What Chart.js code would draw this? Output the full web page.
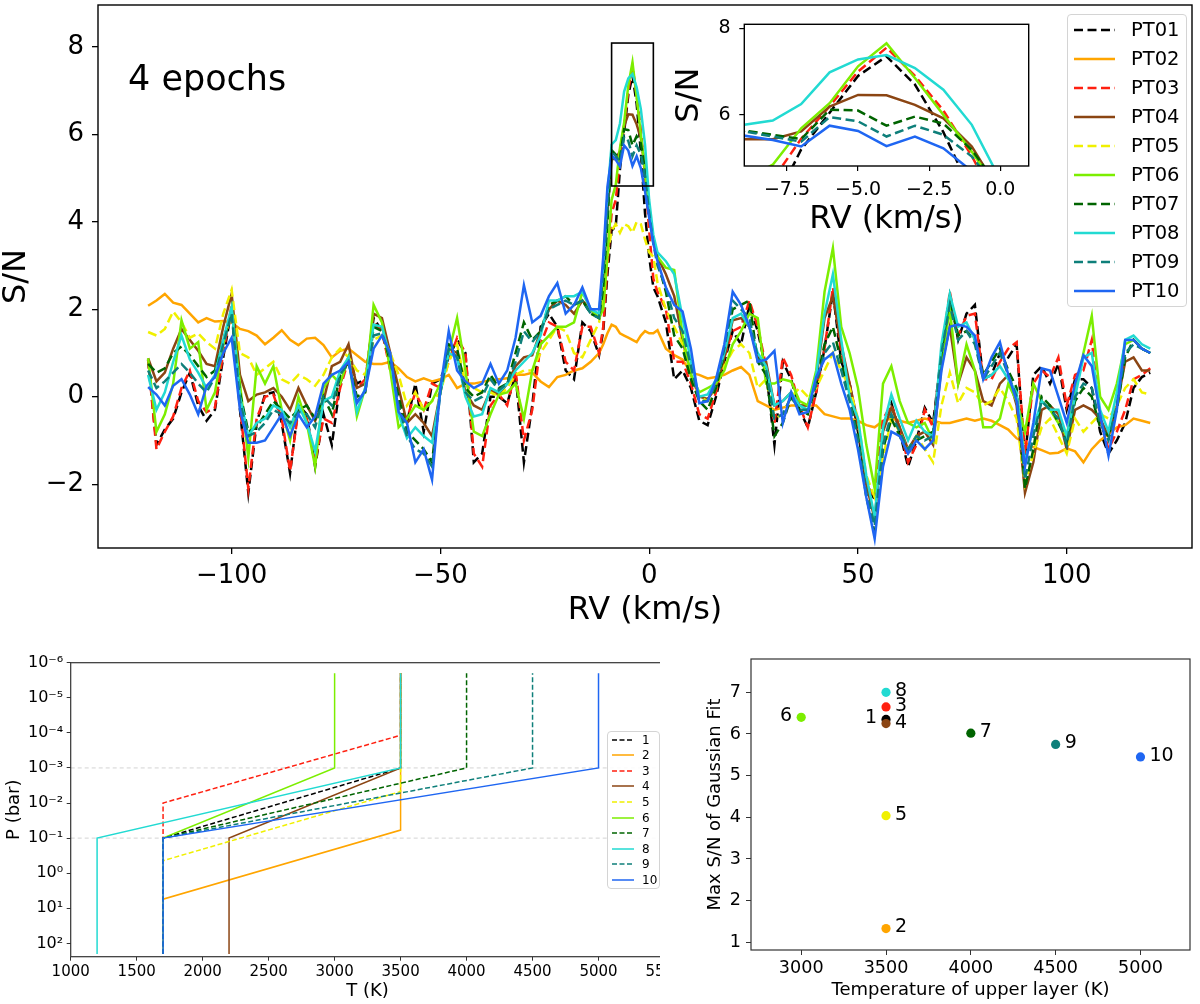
<!DOCTYPE html>
<html><head><meta charset="utf-8">
<script src="https://cdn.jsdelivr.net/npm/chart.js"></script>
<style>
html,body{margin:0;padding:0;background:#fff;}
body{width:1200px;height:1004px;position:relative;overflow:hidden;font-family:'DejaVu Sans',sans-serif;color:#000;}
.abs{position:absolute;}
.legend{position:absolute;background:rgba(255,255,255,0.88);border:1px solid #d4d4d4;border-radius:4px;box-sizing:border-box;}
</style></head>
<body>
<div class="abs" style="left:0;top:0;width:1200px;height:640px;"><canvas id="mainChart" width="1200" height="640"></canvas></div>
<div class="abs" id="epochs" style="left:128px;top:61px;font-size:35px;line-height:35px;white-space:nowrap;">4 epochs</div>
<div class="abs" style="left:590px;top:0;width:450px;height:250px;"><canvas id="insetChart" width="450" height="250"></canvas></div>
<div class="legend" id="mainLegend" style="left:1067px;top:14px;width:120px;height:293px;"></div>
<div class="abs" style="left:0;top:640px;width:660px;height:364px;overflow:hidden;">
  <canvas id="ptChart" width="700" height="364"></canvas>
  <div class="legend" id="ptLegend" style="left:607px;top:91px;width:53px;height:158px;"></div>
</div>
<div class="abs" style="left:660px;top:640px;width:540px;height:364px;"><canvas id="scChart" width="540" height="364"></canvas></div>
<script>
// ---------------- DATA ----------------
const rv = [-120,-118,-116,-114,-112,-110,-108,-106,-104,-102,-100,-98,-96,-94,-92,-90,-88,-86,-84,-82,-80,-78,-76,-74,-72,-70,-68,-66,-64,-62,-60,-58,-56,-54,-52,-50,-48,-46,-44,-42,-40,-38,-36,-34,-32,-30,-28,-26,-24,-22,-20,-18,-16,-14,
 -12,-11,-10,-9,-8,-7,-6,-5,-4,-3,-2,-1,0,1,2,
 4,6,8,10,12,14,16,18,20,22,24,26,28,30,32,34,36,38,40,42,44,46,48,50,52,54,56,58,60,62,64,66,68,70,72,74,76,78,80,82,84,86,88,90,92,94,96,98,100,102,104,106,108,110,112,114,116,118,120];

const pt01 = [0.85,-1.10,-0.75,-0.50,0.10,0.55,-0.20,-0.55,-0.30,0.90,2.00,-0.30,-2.20,-0.60,0.05,0.10,-0.60,-1.75,-0.20,-0.40,-1.60,-0.40,-1.10,0.30,0.90,0.30,0.40,1.80,1.50,0.70,-0.30,-0.60,0.30,-0.80,0.30,0.40,0.90,1.30,1.00,-1.50,-1.30,0.00,0.00,-0.15,0.50,-1.50,-0.20,1.60,1.90,1.60,0.60,0.40,1.70,1.50,
 0.95,1.50,2.80,3.80,3.90,5.20,6.05,6.90,7.35,6.70,5.60,4.20,3.20,2.50,2.30,
 1.70,0.40,0.60,0.20,-0.55,-0.65,0.00,0.80,1.50,1.20,2.10,1.50,0.60,-1.10,0.80,0.40,-0.30,-0.70,0.10,1.10,2.40,0.80,0.30,-0.80,-2.00,-2.35,-0.60,-0.15,-0.80,-1.60,-1.00,-0.25,-0.60,1.00,2.30,1.30,1.90,2.10,0.40,0.50,1.00,0.90,1.20,-1.40,0.50,0.70,0.30,0.75,-0.30,0.40,0.40,0.20,-0.80,-1.30,-1.00,-0.60,0.20,0.45,0.55];
const pt02 = [2.08,2.20,2.35,2.15,2.10,1.90,1.70,1.80,1.72,1.73,1.70,1.55,1.50,1.40,1.20,1.35,1.52,1.30,1.18,1.33,1.35,1.18,0.90,1.05,1.10,0.95,0.80,0.75,0.75,0.80,0.65,0.45,0.35,0.42,0.35,0.40,0.50,0.20,0.30,0.30,0.34,0.38,0.40,0.42,0.50,0.50,0.55,0.35,0.22,0.45,0.50,0.60,0.65,0.80,
 1.00,1.20,1.45,1.65,1.60,1.45,1.40,1.35,1.30,1.25,1.40,1.50,1.45,1.45,1.52,
 1.10,0.95,0.85,0.55,0.50,0.42,0.45,0.50,0.60,0.68,0.50,-0.10,-0.20,-0.30,-0.25,-0.20,-0.20,-0.20,-0.20,-0.40,-0.45,-0.50,-0.50,-0.55,-0.65,-0.70,-0.55,-0.50,-0.55,-0.60,-0.55,-0.50,-0.55,-0.60,-0.60,-0.55,-0.50,-0.55,-0.50,-0.55,-0.65,-0.75,-0.95,-1.05,-1.15,-1.22,-1.30,-1.28,-1.18,-1.25,-1.50,-1.20,-1.00,-0.85,-0.70,-0.65,-0.50,-0.55,-0.60];
const pt03 = [0.85,-1.20,-0.80,-0.45,0.20,0.60,-0.10,-0.35,-0.25,1.00,2.10,-0.20,-2.10,-0.50,0.00,0.05,-0.50,-1.70,-0.30,-0.50,-1.50,-0.50,-0.60,0.20,0.85,0.20,0.40,1.70,1.50,0.60,-0.20,-0.50,0.10,-0.30,0.30,0.20,0.80,1.35,1.00,-1.30,-1.60,-0.20,0.05,-0.20,0.60,-1.00,-0.30,1.20,1.70,1.60,0.80,0.60,1.60,1.60,
 1.00,1.60,3.00,4.20,4.50,5.45,6.20,7.00,7.55,6.90,6.10,5.05,3.80,2.70,2.40,
 2.00,0.80,0.80,0.30,-0.40,-0.50,0.10,0.90,1.50,1.60,2.20,1.60,0.70,-0.60,0.90,0.50,-0.20,-0.70,0.10,1.10,2.50,1.00,0.30,-0.70,-2.00,-2.30,-0.50,-0.20,-0.70,-1.50,-1.10,-0.30,-0.70,1.00,2.40,1.40,1.85,1.90,0.40,0.40,0.80,1.10,1.25,-1.30,0.30,0.60,0.45,0.90,-0.20,0.50,0.60,1.30,-0.50,-1.20,-0.80,-0.30,0.40,0.50,0.65];
const pt04 = [0.88,0.35,0.55,1.10,1.55,1.30,1.05,0.75,0.70,1.60,2.35,0.50,-0.10,0.05,0.10,0.20,0.00,-0.30,0.20,-0.20,-0.55,-0.10,0.70,0.80,1.20,0.20,0.30,1.90,1.80,1.00,0.20,-0.60,-0.40,-0.60,-0.90,0.10,1.10,1.00,0.10,-0.20,-0.30,0.15,0.05,0.30,0.70,0.90,0.95,1.50,2.00,2.20,2.10,1.90,2.20,2.00,
 1.80,2.60,4.20,5.44,5.44,5.62,6.19,6.46,6.45,6.23,5.92,5.27,4.20,3.60,3.20,
 2.80,2.30,1.30,0.50,0.00,-0.05,0.20,0.90,1.75,1.80,1.60,0.90,0.80,-0.20,-0.10,0.10,-0.20,-0.20,0.40,1.80,2.30,1.20,0.30,-0.60,-2.00,-2.80,-0.80,-0.25,-0.70,-1.20,-0.90,-0.80,-1.10,0.70,1.60,0.30,0.90,0.60,-0.10,-0.20,0.30,0.50,-0.20,-2.20,-1.50,-0.30,-0.20,-0.40,-1.20,-0.30,-0.20,-0.30,-0.50,-0.90,-0.20,0.80,0.90,0.60,0.60];
const pt05 = [1.48,1.40,1.55,1.95,1.70,1.35,1.45,1.25,1.10,1.90,2.45,1.00,0.90,0.50,0.65,0.80,0.40,0.30,0.50,0.40,0.25,0.50,0.90,1.10,0.90,0.60,0.50,1.30,1.40,1.00,0.50,-0.20,0.10,-0.30,-0.10,0.10,0.80,1.20,0.30,0.20,0.10,0.10,0.00,0.20,0.50,0.60,0.60,1.00,1.30,1.60,1.50,1.00,0.90,1.30,
 1.70,2.30,3.20,3.80,3.95,3.75,3.95,3.90,3.75,4.00,3.95,3.60,3.30,3.20,2.60,
 2.00,1.60,1.20,0.50,0.00,-0.10,0.20,0.70,1.05,1.20,1.00,0.20,0.40,-0.50,-0.40,0.00,0.20,0.00,0.20,0.60,1.00,0.60,0.20,-0.50,-1.80,-2.30,-1.40,-0.50,-0.80,-1.20,-0.90,-1.20,-1.50,-0.20,0.55,-0.15,0.20,0.10,-0.20,-0.10,0.20,-0.10,-0.50,-2.00,-1.30,-0.70,-0.50,-0.90,-1.30,-0.50,-0.80,-0.60,-0.40,-0.50,-0.20,0.20,0.40,0.10,0.05];
const pt06 = [0.88,-0.80,-0.40,0.30,1.75,1.10,1.25,-0.30,0.10,1.20,2.00,0.30,-1.40,0.70,0.30,0.70,-0.30,-1.00,0.00,-0.60,-1.60,0.20,0.50,0.30,0.90,-0.45,0.20,2.10,1.70,0.60,-0.70,-0.50,-0.20,-0.30,-0.10,0.30,1.00,1.80,0.60,-0.80,-0.90,-0.40,0.05,0.10,0.30,-0.50,0.60,1.20,1.40,1.60,1.60,1.70,2.40,2.00,
 1.80,2.00,3.20,4.50,4.85,5.69,6.27,7.12,7.65,6.85,6.00,5.15,4.20,3.60,3.20,
 2.95,2.90,1.40,0.50,0.10,0.20,0.30,0.60,1.20,1.50,1.90,1.80,0.30,0.30,0.40,0.35,-0.10,-0.20,0.60,2.40,3.40,1.60,1.00,0.20,-1.10,-2.10,0.30,0.70,-0.10,-0.60,-0.70,-0.60,-1.00,0.80,2.00,0.30,1.20,0.60,-0.70,-0.70,-0.50,0.30,-0.10,-0.80,0.30,-0.10,-0.30,-0.60,-0.90,0.10,1.00,1.85,0.00,-0.30,0.30,1.20,1.30,1.10,1.00];
const pt07 = [0.75,0.55,0.65,1.00,1.15,0.95,0.70,0.45,0.60,1.30,1.95,0.10,-0.80,-0.70,-0.40,-0.10,-0.30,-0.50,-0.30,-0.20,-0.50,0.00,-0.40,0.50,0.80,0.00,0.10,1.60,1.50,0.80,0.00,-0.80,-1.00,-1.20,-1.50,0.20,1.20,1.10,0.20,0.00,0.10,0.50,0.20,0.30,1.00,1.70,1.30,1.50,2.10,2.20,2.30,2.10,2.20,1.90,
 1.80,2.50,4.00,5.64,5.54,5.44,6.12,6.10,5.75,5.96,5.80,5.19,4.30,3.60,3.10,
 2.40,1.40,1.10,0.40,-0.10,-0.30,0.20,1.00,2.00,2.10,2.20,0.80,0.50,-0.90,-0.60,0.00,-0.30,-0.40,0.30,1.20,1.60,0.80,0.00,-0.90,-2.30,-3.10,-1.20,-0.50,-0.90,-1.30,-1.00,-0.90,-0.80,1.00,2.30,1.40,1.50,1.30,0.50,0.80,1.10,0.60,0.20,-2.10,-1.20,0.00,-0.20,-0.60,-1.00,-0.10,0.20,0.00,-0.70,-0.90,-0.30,0.90,1.30,1.10,1.00];
const pt08 = [0.50,-0.30,0.10,0.80,1.40,0.85,0.55,0.20,0.50,1.30,2.05,0.00,-0.90,-0.60,-0.50,-0.20,-0.30,-0.70,-0.20,-0.60,-1.25,-0.10,0.00,0.60,0.90,-0.35,0.20,1.65,1.60,0.90,-0.40,-0.95,-0.70,-0.90,-1.05,0.10,1.00,0.90,0.00,-0.45,-0.40,0.20,0.10,0.30,0.60,0.80,1.00,1.40,2.20,2.20,2.30,2.30,2.40,2.00,
 1.90,3.00,4.60,5.77,5.87,6.25,6.98,7.28,7.38,7.08,6.58,5.77,4.50,3.70,3.30,
 3.10,2.80,1.80,0.80,0.00,0.05,0.40,1.00,1.80,1.90,1.60,1.00,0.70,-0.20,-0.10,0.10,-0.20,-0.30,0.50,1.90,2.80,1.30,0.00,-0.50,-1.80,-2.75,-0.70,0.05,-0.50,-1.00,-0.55,-0.80,-0.90,1.20,2.35,1.60,1.70,1.30,0.40,0.50,0.70,0.40,0.10,-1.50,-0.70,-0.10,-0.30,-0.30,-0.90,0.00,0.90,1.00,-0.30,-0.80,0.10,1.30,1.40,1.20,1.10];
const pt09 = [0.60,0.20,0.35,0.55,0.75,0.55,0.30,0.10,0.45,1.20,1.90,-0.10,-0.90,-0.80,-0.60,-0.30,-0.40,-0.60,-0.35,-0.40,-0.70,0.00,-0.20,0.50,0.80,-0.10,0.10,1.40,1.45,0.90,-0.20,-0.90,-1.20,-1.30,-1.60,0.10,1.10,0.90,0.10,-0.10,0.00,0.40,0.15,0.30,0.80,1.50,1.25,1.50,2.00,2.10,2.20,2.10,2.20,1.90,
 1.80,2.80,4.30,5.62,5.50,5.38,5.95,5.85,5.50,5.75,5.54,5.04,4.20,3.50,3.00,
 2.50,1.80,1.50,0.70,-0.10,-0.10,0.30,1.10,2.20,2.00,1.80,0.90,0.60,-0.50,-0.40,0.00,-0.30,-0.30,0.30,1.00,1.25,0.60,-0.10,-1.00,-2.20,-2.95,-1.10,-0.40,-0.80,-1.20,-0.90,-1.00,-0.90,1.00,2.10,1.30,1.50,1.20,0.40,0.70,1.00,0.50,0.00,-1.90,-0.90,-0.10,-0.30,-0.50,-1.10,0.00,0.30,0.20,-0.60,-1.00,-0.20,1.00,1.20,1.10,1.00];
const pt10 = [0.22,0.05,-0.20,0.25,0.40,0.05,-0.40,0.25,0.45,1.00,1.35,-0.30,-1.05,-1.05,-1.00,-0.70,-0.40,-0.90,-0.40,-0.70,-0.45,0.30,0.50,0.60,0.80,-0.15,0.15,1.10,1.40,1.00,-0.35,-0.60,-1.50,-1.20,-1.90,0.20,1.50,0.60,0.35,0.20,0.30,0.75,0.30,0.60,1.35,2.55,1.70,1.85,2.30,2.60,1.90,2.10,2.50,2.00,
 2.00,3.20,4.80,5.52,5.42,5.27,5.75,5.63,5.28,5.50,5.23,4.70,4.10,3.50,3.10,
 2.50,2.10,1.95,1.10,-0.15,-0.10,0.40,1.20,2.40,2.10,1.60,0.80,0.85,1.05,-0.60,0.10,-0.40,-0.35,0.45,0.85,1.00,0.30,-0.30,-1.20,-2.30,-3.25,-1.60,-0.80,-0.90,-1.30,-1.00,-1.20,-1.00,0.60,1.60,1.65,1.60,1.40,0.40,0.90,1.25,0.50,-0.10,-1.60,-0.60,0.65,0.60,0.00,-0.60,0.30,0.95,0.70,-0.40,-1.35,-0.30,1.30,1.30,1.10,1.00];

const seriesNames = ['PT01','PT02','PT03','PT04','PT05','PT06','PT07','PT08','PT09','PT10'];
const seriesValues = [pt01,pt02,pt03,pt04,pt05,pt06,pt07,pt08,pt09,pt10];

const mainXTicks = [-100,-50,0,50,100];
const mainYTicks = [-2,0,2,4,6,8];
const insetXRange = [-9,1];
const insetYRange = [4.82,8.09];
const insetXTicks = [-7.5,-5,-2.5,0];
const insetYTicks = [6,8];

// P-T profiles (bottom-left)
const ptNames = ['1','2','3','4','5','6','7','8','9','10'];
const ptTemps = [
  [1700,1700,3500,3500],[1700,1700,3500,3500],[1700,1700,3500,3500],[2200,2200,3500,3500],[1700,1700,3500,3500],
  [1700,1700,3000,3000],[1700,1700,4000,4000],[1200,1200,3500,3500],[1700,1700,4500,4500],[1700,1700,5000,5000]];
const ptPress = [
  [200,0.1,1e-3,2e-6],[200,5.5,0.059,2e-6],[200,1e-2,1.17e-4,2e-6],[200,0.1,1e-3,2e-6],[200,0.44,4.7e-3,2e-6],
  [200,0.1,1e-3,2e-6],[200,0.1,1e-3,2e-6],[200,0.1,1e-3,2e-6],[200,0.1,1e-3,2e-6],[200,0.1,1e-3,2e-6]];
const refPressures = [1e-3, 1e-1];
const ptXTicks = [1000,1500,2000,2500,3000,3500,4000,4500,5000,5500];
const ptYTicks = [1e-6,1e-5,1e-4,1e-3,1e-2,1e-1,1e0,1e1,1e2];

// Scatter (bottom-right)
const scatterLabels = ['1','2','3','4','5','6','7','8','9','10'];
const scatterTemp = [3500,3500,3500,3500,3500,3000,4000,3500,4500,5000];
const scatterSN = [6.35,1.33,6.65,6.25,4.04,6.40,6.02,7.00,5.75,5.45];
const scXTicks = [3000,3500,4000,4500,5000];
const scYTicks = [1,2,3,4,5,6,7];

// ---------------- STYLE ----------------
const colors = ['#000000','#FFA500','#FF2010','#8B4513','#F0F000','#7CEE00','#006400','#22DAD2','#0E7F7A','#1F66F2'];
const dashed = [true,false,true,false,true,false,true,false,true,false];
const labelSide = ['left','right','right','right','right','left','right','right','right','right'];

Chart.defaults.font.family = "'DejaVu Sans', sans-serif";
Chart.defaults.color = '#000';

const fmtNum = v => (v < 0 ? '\u2212' + Math.abs(v) : String(v));
const fmt1 = v => (v < 0 ? '\u2212' + Math.abs(v).toFixed(1) : v.toFixed(1));
const sup = {'-':'\u207B','0':'\u2070','1':'\u00B9','2':'\u00B2','3':'\u00B3','4':'\u2074','5':'\u2075','6':'\u2076','7':'\u2077','8':'\u2078','9':'\u2079'};
const fmtPow = v => { const e = Math.round(Math.log10(v)); return '10' + String(e).split('').map(c => sup[c]).join(''); };

const framePlugin = {
  id: 'frame',
  afterDatasetsDraw(chart, args, o) {
    const {ctx, chartArea: a} = chart;
    ctx.save(); ctx.strokeStyle = o.color || '#000'; ctx.lineWidth = o.width || 1.3;
    ctx.strokeRect(a.left, a.top, a.right - a.left, a.bottom - a.top); ctx.restore();
  }
};
const insetBoxPlugin = {
  id: 'insetBox',
  afterDatasetsDraw(chart, args, o) {
    if (!o || !o.show) return;
    const xs = chart.scales.x, ys = chart.scales.y, ctx = chart.ctx;
    const x1 = xs.getPixelForValue(insetXRange[0]), x2 = xs.getPixelForValue(insetXRange[1]);
    const y1 = ys.getPixelForValue(insetYRange[1]), y2 = ys.getPixelForValue(insetYRange[0]);
    ctx.save(); ctx.strokeStyle = '#000'; ctx.lineWidth = 1.6;
    ctx.strokeRect(x1, y1, x2 - x1, y2 - y1); ctx.restore();
  }
};
const pointLabelPlugin = {
  id: 'pointLabels',
  afterDatasetsDraw(chart) {
    const meta = chart.getDatasetMeta(0), ctx = chart.ctx;
    ctx.save(); ctx.font = "19px 'DejaVu Sans'"; ctx.fillStyle = '#000'; ctx.textBaseline = 'middle';
    meta.data.forEach((p, i) => {
      const left = labelSide[i] === 'left';
      ctx.textAlign = left ? 'right' : 'left';
      ctx.fillText(scatterLabels[i], p.x + (left ? -9 : 9), p.y - 1);
    });
    ctx.restore();
  }
};

function lineSets(lw, dash) {
  return seriesNames.map((name, i) => ({
    label: name,
    data: rv.map((x, j) => ({x: x, y: seriesValues[i][j]})),
    borderColor: colors[i], backgroundColor: colors[i],
    borderWidth: lw, borderDash: dashed[i] ? dash : [],
    pointRadius: 0, tension: 0, fill: false,
    order: seriesNames.length - i
  }));
}
function tickGrid(len, w, c) {
  return {display: true, drawOnChartArea: false, drawTicks: true, tickLength: len, tickWidth: w, tickColor: c, color: c, lineWidth: w};
}
// fix axis size and remove automatic label padding so the plot area is exactly as laid out
const fixH = h => s => { s.height = h; s.paddingLeft = 0; s.paddingRight = 0; s.paddingTop = 0; s.paddingBottom = 0; };
const fixW = w => s => { s.width = w; s.paddingLeft = 0; s.paddingRight = 0; s.paddingTop = 0; s.paddingBottom = 0; };

// ---------------- MAIN CHART ----------------
new Chart(document.getElementById('mainChart'), {
  type: 'line',
  data: {datasets: lineSets(2.5, [9, 4.5])},
  options: {
    responsive: false, animation: false, events: [],
    layout: {padding: {top: 5, right: 8, left: 0, bottom: 0}},
    plugins: {legend: {display: false}, tooltip: {enabled: false}, frame: {color: '#000', width: 1.4}, insetBox: {show: true}},
    scales: {
      x: {type: 'linear', min: -132, max: 130,
        afterBuildTicks: s => { s.ticks = mainXTicks.map(v => ({value: v})); },
        afterFit: fixH(92),
        ticks: {font: {size: 26}, padding: 7, maxRotation: 0, callback: v => fmtNum(v)},
        grid: tickGrid(6, 1.3, '#000'), border: {display: false},
        title: {display: true, text: 'RV (km/s)', font: {size: 32}, padding: {top: 0, bottom: 10}}},
      y: {type: 'linear', min: -3.46, max: 8.96,
        afterBuildTicks: s => { s.ticks = mainYTicks.map(v => ({value: v})); },
        afterFit: fixW(98),
        ticks: {font: {size: 26}, padding: 8, callback: v => fmtNum(v)},
        grid: tickGrid(6, 1.3, '#000'), border: {display: false},
        title: {display: true, text: 'S/N', font: {size: 32, lineHeight: 1}, padding: {top: 1, bottom: 0}}}
    }
  },
  plugins: [framePlugin, insetBoxPlugin]
});

// ---------------- INSET ----------------
new Chart(document.getElementById('insetChart'), {
  type: 'line',
  data: {datasets: lineSets(2.5, [9, 4.5])},
  options: {
    responsive: false, animation: false, events: [],
    layout: {padding: {top: 24.3, right: 11.3, left: 0, bottom: 0}},
    plugins: {legend: {display: false}, tooltip: {enabled: false}, frame: {color: '#000', width: 1.4}},
    scales: {
      x: {type: 'linear', min: insetXRange[0], max: insetXRange[1],
        afterBuildTicks: s => { s.ticks = insetXTicks.map(v => ({value: v})); },
        afterFit: fixH(84),
        ticks: {font: {size: 19}, padding: 7.5, maxRotation: 0, callback: v => fmt1(v)},
        grid: tickGrid(5, 1.2, '#000'), border: {display: false},
        title: {display: true, text: 'RV (km/s)', font: {size: 32}, padding: {top: 0, bottom: 10.8}}},
      y: {type: 'linear', min: insetYRange[0], max: insetYRange[1],
        afterBuildTicks: s => { s.ticks = insetYTicks.map(v => ({value: v})); },
        afterFit: fixW(154.3),
        ticks: {font: {size: 19}, padding: 8.7, callback: v => fmtNum(v)},
        grid: tickGrid(5, 1.2, '#000'), border: {display: false},
        title: {display: true, text: 'S/N', font: {size: 32}, padding: {top: 80.4, bottom: 0}}}
    }
  },
  plugins: [framePlugin]
});

// ---------------- P-T PROFILES ----------------
const ptSets = ptNames.map((n, i) => ({
  label: n,
  data: ptTemps[i].map((t, j) => ({x: t, y: ptPress[i][j]})),
  borderColor: colors[i], borderWidth: 1.5, borderDash: dashed[i] ? [5, 2.5] : [],
  pointRadius: 0, tension: 0, fill: false, order: ptNames.length - i
}));
refPressures.forEach(p => ptSets.push({
  label: '', data: [{x: 1000, y: p}, {x: 5500, y: p}],
  borderColor: '#d3d3d3', borderWidth: 1, borderDash: [4, 3], pointRadius: 0, order: 100
}));
new Chart(document.getElementById('ptChart'), {
  type: 'line',
  data: {datasets: ptSets},
  options: {
    responsive: false, animation: false, events: [],
    layout: {padding: {top: 22.7, right: 35.5, left: 0, bottom: 0}},
    plugins: {legend: {display: false}, tooltip: {enabled: false}, frame: {color: '#333', width: 1.2}},
    scales: {
      x: {type: 'linear', min: 1000, max: 5500,
        afterBuildTicks: s => { s.ticks = ptXTicks.map(v => ({value: v})); },
        afterFit: fixH(47.3),
        ticks: {font: {size: 15}, padding: 2, maxRotation: 0, callback: v => String(v)},
        grid: tickGrid(4, 1, '#333'), border: {display: false},
        title: {display: true, text: 'T (K)', font: {size: 18}, padding: {top: 0, bottom: 1.5}}},
      y: {type: 'logarithmic', reverse: true, min: 1e-6, max: 240,
        afterBuildTicks: s => { s.ticks = ptYTicks.map(v => ({value: v})); },
        afterFit: fixW(70.7),
        ticks: {font: {size: 16}, padding: 3.5, callback: v => fmtPow(v)},
        grid: tickGrid(4, 1, '#333'), border: {display: false},
        title: {display: true, text: 'P (bar)', font: {size: 18}, padding: {top: 3.9, bottom: 0}}}
    }
  },
  plugins: [framePlugin]
});

// ---------------- SCATTER ----------------
new Chart(document.getElementById('scChart'), {
  type: 'scatter',
  data: {datasets: [{
    label: 'max S/N',
    data: scatterTemp.map((t, i) => ({x: t, y: scatterSN[i]})),
    backgroundColor: colors, borderWidth: 0, pointRadius: 4.6
  }]},
  options: {
    responsive: false, animation: false, events: [],
    layout: {padding: {top: 19, right: 10, left: 0, bottom: 0}},
    plugins: {legend: {display: false}, tooltip: {enabled: false}, frame: {color: '#333', width: 1.2}},
    scales: {
      x: {type: 'linear', min: 2704, max: 5292,
        afterBuildTicks: s => { s.ticks = scXTicks.map(v => ({value: v})); },
        afterFit: fixH(54),
        ticks: {font: {size: 17.6}, padding: 2.4, maxRotation: 0, callback: v => String(v)},
        grid: tickGrid(5, 1, '#333'), border: {display: false},
        title: {display: true, text: 'Temperature of upper layer (K)', font: {size: 18}, padding: {top: 0, bottom: 3.2}}},
      y: {type: 'linear', min: 0.815, max: 7.8,
        afterBuildTicks: s => { s.ticks = scYTicks.map(v => ({value: v})); },
        afterFit: fixW(91),
        ticks: {font: {size: 17.6}, padding: 5, callback: v => String(v)},
        grid: tickGrid(5, 1, '#333'), border: {display: false},
        title: {display: true, text: 'Max S/N of Gaussian Fit', font: {size: 18}, padding: {top: 44.2, bottom: 0}}}
    }
  },
  plugins: [framePlugin, pointLabelPlugin]
});

// ---------------- HTML LEGENDS ----------------
function buildLegend(el, names, o) {
  names.forEach((n, i) => {
    const row = document.createElement('div');
    row.style.cssText = 'position:absolute;left:0;width:100%;top:' + (o.y0 + o.dy * i - o.h / 2) + 'px;height:' + o.h + 'px;';
    const dashAttr = dashed[i] ? ' stroke-dasharray="' + o.dash + '"' : '';
    row.innerHTML = '<svg width="' + (o.sx + o.sw + 2) + '" height="' + o.h + '" style="position:absolute;left:0;top:0">' +
      '<line x1="' + o.sx + '" y1="' + (o.h / 2) + '" x2="' + (o.sx + o.sw) + '" y2="' + (o.h / 2) + '" stroke="' + colors[i] + '" stroke-width="' + o.lw + '"' + dashAttr + '/></svg>' +
      '<span style="position:absolute;left:' + o.tx + 'px;top:0;line-height:' + o.h + 'px;font-size:' + o.fs + 'px;white-space:nowrap;">' + n + '</span>';
    el.appendChild(row);
  });
}
buildLegend(document.getElementById('mainLegend'), seriesNames, {y0: 14.8, dy: 29, h: 24, sx: 6, sw: 41, tx: 63, fs: 19.5, lw: 2.5, dash: '9 4.5'});
buildLegend(document.getElementById('ptLegend'), ptNames, {y0: 7.5, dy: 15.6, h: 14, sx: 4, sw: 22, tx: 34, fs: 12, lw: 1.5, dash: '5 2.5'});
</script>
</body></html>
